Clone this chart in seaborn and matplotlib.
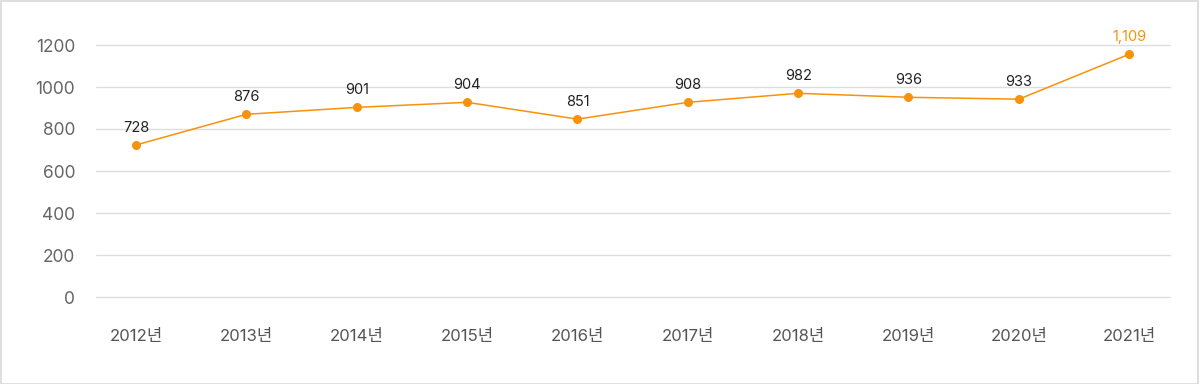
import matplotlib
matplotlib.use("Agg")
import matplotlib.pyplot as plt
from matplotlib.patches import Rectangle
import seaborn as sns
import pandas as pd

years = ["2012년", "2013년", "2014년", "2015년", "2016년", "2017년", "2018년", "2019년", "2020년", "2021년"]
values = [724, 870, 903, 927, 847, 927, 970, 951, 942, 1156]
value_labels = ["728", "876", "901", "904", "851", "908", "982", "936", "933", "1,109"]
y_ticks = [0, 200, 400, 600, 800, 1000, 1200]

sns.set_theme(style="white")
plt.rcParams['font.family'] = ['Inter', 'Noto Sans CJK KR', 'DejaVu Sans']

ORANGE = "#F7920B"

df = pd.DataFrame({"year": years, "value": values})
df["x"] = range(len(years))

fig = plt.figure(figsize=(12, 3.84), dpi=100)
fig.patch.set_facecolor("white")
fig.patches.append(Rectangle((0.0005, 0.001), 0.998, 0.997, transform=fig.transFigure,
                             fill=False, edgecolor="#d9d9d9", linewidth=1.2))
ax = fig.add_axes([96 / 1200, (384 - 297) / 384, (1170 - 96) / 1200, (297 - 45) / 384])

for t in y_ticks:
    ax.axhline(t, color="#dedede", linewidth=1, zorder=0, clip_on=False)

sns.lineplot(data=df, x="x", y="value", ax=ax, color=ORANGE, linewidth=1.1,
             marker="o", markersize=6.5, markeredgewidth=0, clip_on=False, zorder=3)

for i, (v, lab) in enumerate(zip(values, value_labels)):
    last = i == len(values) - 1
    ax.annotate(lab, (i, v), xytext=(0, 7.5), textcoords="offset points",
                ha="center", va="bottom", fontsize=10.5,
                color=ORANGE if last else "#222222", annotation_clip=False)

ax.set_xlim(-0.363, 9.37)
ax.set_ylim(0, 1200)
ax.set_yticks(y_ticks)
ax.set_yticklabels([str(t) for t in y_ticks], fontsize=12.5, color="#666666")
ax.set_xticks(range(len(years)))
ax.set_xticklabels(years, fontsize=12, color="#555555")
ax.tick_params(axis="y", length=0, pad=15)
ax.tick_params(axis="x", length=0, pad=23)
ax.set_xlabel("")
ax.set_ylabel("")
for s in ax.spines.values():
    s.set_visible(False)
ax.grid(False)

fig.savefig("out.png", dpi=100, facecolor="white")
